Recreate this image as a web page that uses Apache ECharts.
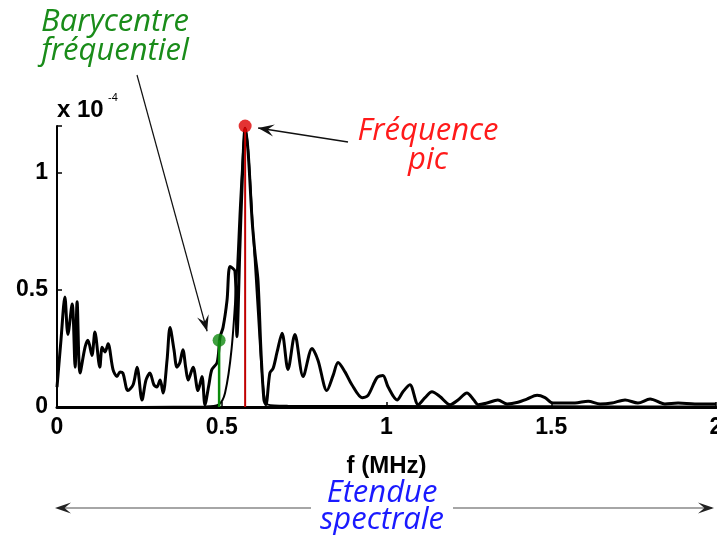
<!DOCTYPE html>
<html>
<head>
<meta charset="utf-8">
<script src="https://cdn.jsdelivr.net/npm/echarts@6/dist/echarts.min.js"></script>
<style>
html, body { margin: 0; padding: 0; background: #fff; }
#spectre { width: 717px; height: 535px; }
</style>
</head>
<body>
<div id="spectre"></div>
<script>
// spectre du signal (amplitude x 1e-4) en fonction de f (MHz)
var freq = [0, 0.012, 0.024, 0.033, 0.046, 0.055, 0.061, 0.070, 0.085, 0.094,
  0.106, 0.115, 0.130, 0.137, 0.146, 0.155, 0.170, 0.182, 0.191, 0.200,
  0.215, 0.231, 0.243, 0.258, 0.270, 0.282, 0.294, 0.303, 0.313, 0.322,
  0.334, 0.343, 0.355, 0.364, 0.373, 0.382, 0.391, 0.398, 0.413, 0.428,
  0.440, 0.449, 0.461, 0.470, 0.486, 0.495, 0.504, 0.516, 0.525, 0.540,
  0.546, 0.555, 0.561, 0.571, 0.580, 0.592, 0.601, 0.610, 0.619, 0.628,
  0.634, 0.646, 0.656, 0.668, 0.683, 0.701, 0.722, 0.747, 0.774, 0.792,
  0.819, 0.838, 0.853, 0.874, 0.895, 0.926, 0.944, 0.971, 0.989, 1.005,
  1.032, 1.050, 1.071, 1.096, 1.117, 1.138, 1.162, 1.193, 1.217, 1.244,
  1.265, 1.278, 1.305, 1.338, 1.366, 1.399, 1.426, 1.457, 1.481, 1.505,
  1.542, 1.572, 1.612, 1.648, 1.684, 1.724, 1.763, 1.800, 1.845, 1.885,
  1.936, 2.000]
var amp = [0.085, 0.285, 0.47, 0.31, 0.44, 0.17, 0.45, 0.145, 0.255, 0.285,
  0.22, 0.32, 0.17, 0.255, 0.235, 0.27, 0.16, 0.13, 0.15, 0.145,
  0.07, 0.095, 0.17, 0.03, 0.115, 0.145, 0.095, 0.085, 0.115, 0.06,
  0.20, 0.34, 0.245, 0.17, 0.19, 0.245, 0.165, 0.115, 0.17, 0.07,
  0.13, 0.01, 0.095, 0.16, 0.19, 0.30, 0.34, 0.455, 0.60, 0.58,
  0.30, 0.68, 0.92, 1.19, 1.09, 0.80, 0.655, 0.54, 0.24, 0.03,
  0.01, 0.145, 0.165, 0.235, 0.315, 0.16, 0.31, 0.13, 0.25, 0.20,
  0.07, 0.135, 0.19, 0.15, 0.095, 0.04, 0.05, 0.125, 0.135, 0.085,
  0.03, 0.065, 0.095, 0.01, 0.04, 0.065, 0.045, 0.01, 0.03, 0.06,
  0.03, 0.01, 0.017, 0.03, 0.013, 0.02, 0.034, 0.05, 0.04, 0.017,
  0.017, 0.017, 0.025, 0.013, 0.017, 0.03, 0.017, 0.034, 0.013, 0.017,
  0.013, 0.013]

// spectre filtré autour du pic (presque nul ailleurs)
var freqPic = [0, 0.45, 0.49, 0.51, 0.53, 0.545, 0.555, 0.565, 0.571, 0.58, 0.595, 0.61, 0.625, 0.64, 0.7, 1.0, 1.5, 2.0]
var ampPic = [0, 0.002, 0.01, 0.06, 0.25, 0.55, 0.85, 1.1, 1.19, 1.1, 0.75, 0.4, 0.1, 0.01, 0.005, 0.004, 0.003, 0.002]

var xTicks = [0, 0.5, 1, 1.5, 2]
var yTicks = [0, 0.5, 1]
var yMax = 1.2

var barycentre = [0.492, 0.285]   // barycentre fréquentiel
var pic = [0.571, 1.19]           // fréquence pic

function zip(xs, ys) {
  return xs.map(function (x, i) { return [x, ys[i]] })
}

var chart = echarts.init(document.getElementById('spectre'))

var axisFont = { color: '#000', fontSize: 23, fontWeight: 'bold', fontFamily: 'Liberation Sans' }

var option = {
  backgroundColor: '#fff',
  animation: false,
  grid: { left: 57, right: 1, top: 126, bottom: 128, outerBoundsMode: 'none' },
  xAxis: {
    type: 'value',
    min: xTicks[0],
    max: xTicks[xTicks.length - 1],
    interval: 0.5,
    name: 'f (MHz)',
    nameLocation: 'middle',
    nameGap: 47,
    nameTextStyle: { color: '#000', fontSize: 24, fontWeight: 'bold', fontFamily: 'Liberation Sans' },
    axisLine: { lineStyle: { color: '#000', width: 3 } },
    axisTick: { inside: true, length: 5, lineStyle: { color: '#000', width: 1.5 } },
    axisLabel: Object.assign({ margin: 9 }, axisFont),
    splitLine: { show: false }
  },
  yAxis: {
    type: 'value',
    min: yTicks[0],
    max: yMax,
    interval: 0.5,
    axisLine: { show: true, lineStyle: { color: '#000', width: 2 } },
    axisTick: { show: true, inside: true, length: 5, lineStyle: { color: '#000', width: 1.5 } },
    axisLabel: Object.assign({
      margin: 9,
      formatter: function (v) { return yTicks.indexOf(v) >= 0 ? String(v) : '' }
    }, axisFont),
    splitLine: { show: false }
  },
  series: [
    {
      name: 'pic filtré',
      type: 'line',
      data: zip(freqPic, ampPic),
      showSymbol: false,
      smooth: 0.3,
      lineStyle: { color: '#000', width: 2 },
      z: 2
    },
    {
      name: 'spectre',
      type: 'line',
      data: zip(freq, amp),
      showSymbol: false,
      smooth: 0.3,
      lineStyle: { color: '#000', width: 3 },
      z: 3
    },
    {
      name: 'barycentre',
      type: 'line',
      data: [[barycentre[0], 0], barycentre],
      showSymbol: false,
      lineStyle: { color: '#0b8a0b', width: 2.5 },
      z: 4
    },
    {
      name: 'pic',
      type: 'line',
      data: [[pic[0], 0], pic],
      showSymbol: false,
      lineStyle: { color: '#c00000', width: 2 },
      z: 4
    },
    {
      type: 'scatter',
      symbolSize: 13,
      data: [
        { value: barycentre, itemStyle: { color: '#108a10' } },
        { value: [pic[0], yMax], itemStyle: { color: '#dd0000' } }
      ],
      z: 5
    }
  ]
}

chart.setOption(option)

// tête de flèche (style matlab) : pointe, coins, encoche
function tete(tip, from, len, half, fill) {
  var dx = tip[0] - from[0], dy = tip[1] - from[1]
  var d = Math.sqrt(dx * dx + dy * dy)
  var ux = dx / d, uy = dy / d
  var bx = tip[0] - ux * len, by = tip[1] - uy * len
  var nx = tip[0] - ux * len * 0.6, ny = tip[1] - uy * len * 0.6
  return {
    type: 'polygon',
    shape: { points: [tip, [bx - uy * half, by + ux * half], [nx, ny], [bx + uy * half, by - ux * half]] },
    style: { fill: fill },
    z: 10
  }
}

function fleche(from, tip, color, width) {
  return [
    { type: 'line', shape: { x1: from[0], y1: from[1], x2: tip[0], y2: tip[1] }, style: { stroke: color, lineWidth: width }, z: 10 },
    tete(tip, from, 16, 6, '#111')
  ]
}

function texte(str, x, y, font, color) {
  return { type: 'text', x: x, y: y, style: { text: str, font: font, fill: color, align: 'center', verticalAlign: 'middle' }, z: 10 }
}

var pB = chart.convertToPixel({ gridIndex: 0 }, barycentre)
var pP = chart.convertToPixel({ gridIndex: 0 }, [pic[0], yMax])
var x0 = chart.convertToPixel({ gridIndex: 0 }, [0, 0])
var x2 = chart.convertToPixel({ gridIndex: 0 }, [2, 0])

var italique = 'italic 31px "Open Sans"'
var yEt = 508
var elems = []
elems.push(texte('Barycentre', 115, 22, italique, '#1a8c1a'))
elems.push(texte('fréquentiel', 115, 51, italique, '#1a8c1a'))
elems.push(texte('Fréquence', 428, 131, italique, '#ff1a1a'))
elems.push(texte('pic', 428, 160, italique, '#ff1a1a'))
elems.push(texte('Etendue', 382, 493, italique, '#1a1aff'))
elems.push(texte('spectrale', 382, 520, italique, '#1a1aff'))
elems.push({ type: 'text', x: 57, y: 110, style: { text: 'x 10', font: 'bold 24px "Liberation Sans"', fill: '#000', verticalAlign: 'middle' }, z: 10 })
elems.push({ type: 'text', x: 108, y: 98, style: { text: '-4', font: '11px "Liberation Sans"', fill: '#000', verticalAlign: 'middle' }, z: 10 })
elems = elems.concat(fleche([137, 75], [pB[0] - 12, pB[1] - 9], '#111', 1.2))
elems = elems.concat(fleche([348, 142], [pP[0] + 13, pP[1] + 2], '#111', 1.5))
// étendue spectrale : double flèche coupée par le texte
elems.push({ type: 'line', shape: { x1: x0[0] + 4, y1: yEt, x2: 311, y2: yEt }, style: { stroke: '#888', lineWidth: 1.6 }, z: 10 })
elems.push({ type: 'line', shape: { x1: 453, y1: yEt, x2: x2[0] - 4, y2: yEt }, style: { stroke: '#888', lineWidth: 1.6 }, z: 10 })
elems.push(tete([x0[0] - 2, yEt], [311, yEt], 16, 5.5, '#222'))
elems.push(tete([x2[0] - 2, yEt], [453, yEt], 16, 5.5, '#222'))

chart.setOption({ graphic: elems })
</script>
</body>
</html>
